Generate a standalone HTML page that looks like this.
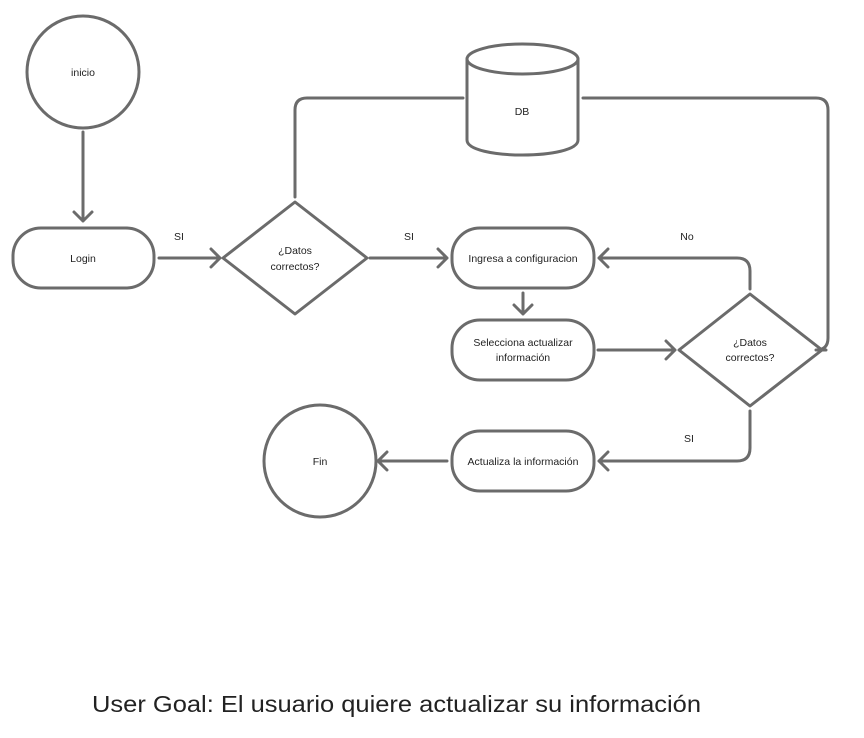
<!DOCTYPE html>
<html><head><meta charset="utf-8"><style>
html,body{margin:0;padding:0;background:#fff;width:864px;height:738px;overflow:hidden}
svg{display:block}
text{font-family:"Liberation Sans",sans-serif;fill:#222}
</style></head><body>
<svg width="864" height="738" viewBox="0 0 864 738" xmlns="http://www.w3.org/2000/svg">
<g fill="none" stroke="#6b6b6b" stroke-width="3" stroke-linecap="round" stroke-linejoin="round">
<circle cx="83" cy="72" r="56"/>
<path d="M83 132V221M74 212l9 9 9-9"/>
<rect x="13" y="228" width="141" height="60" rx="28"/>
<path d="M159 258H220M211 249l9 9-9 9"/>
<path d="M295 202L367 258 295 314 223 258Z"/>
<path d="M295 197V110Q295 98 307 98H463"/>
<path d="M467 59V140C467 160 578 160 578 140V59"/>
<ellipse cx="522.5" cy="59" rx="55.5" ry="15"/>
<path d="M583 98H816Q828 98 828 110V338Q828 350 816 350H826"/>
<path d="M370 258H447M438 249l9 9-9 9"/>
<rect x="452" y="228" width="142" height="60" rx="28"/>
<path d="M523 293V314M514 305l9 9 9-9"/>
<rect x="452" y="320" width="142" height="60" rx="28"/>
<path d="M598 350H675M666 341l9 9-9 9"/>
<path d="M750 294L822 350 750 406 679 350Z"/>
<path d="M750 289V271Q750 258 737 258H599M608 249l-9 9 9 9"/>
<path d="M750 411V448Q750 461 737 461H599M608 452l-9 9 9 9"/>
<rect x="452" y="431" width="142" height="60" rx="28"/>
<path d="M447 461H378M387 452l-9 9 9 9"/>
<circle cx="320" cy="461" r="56"/>
</g>
<g font-size="10.5" text-anchor="middle">
<text x="83" y="76">inicio</text>
<text x="83" y="262">Login</text>
<text x="179" y="240">SI</text>
<text x="295" y="254">¿Datos</text>
<text x="295" y="270">correctos?</text>
<text x="409" y="240">SI</text>
<text x="522" y="115">DB</text>
<text x="523" y="262">Ingresa a configuracion</text>
<text x="523" y="346">Selecciona actualizar</text>
<text x="523" y="361">información</text>
<text x="750" y="346">¿Datos</text>
<text x="750" y="361">correctos?</text>
<text x="687" y="240">No</text>
<text x="689" y="442">SI</text>
<text x="523" y="465">Actualiza la información</text>
<text x="320" y="465">Fin</text>
</g>
<text x="92" y="712" font-size="23" textLength="609" lengthAdjust="spacingAndGlyphs">User Goal: El usuario quiere actualizar su información</text>
</svg>
</body></html>
